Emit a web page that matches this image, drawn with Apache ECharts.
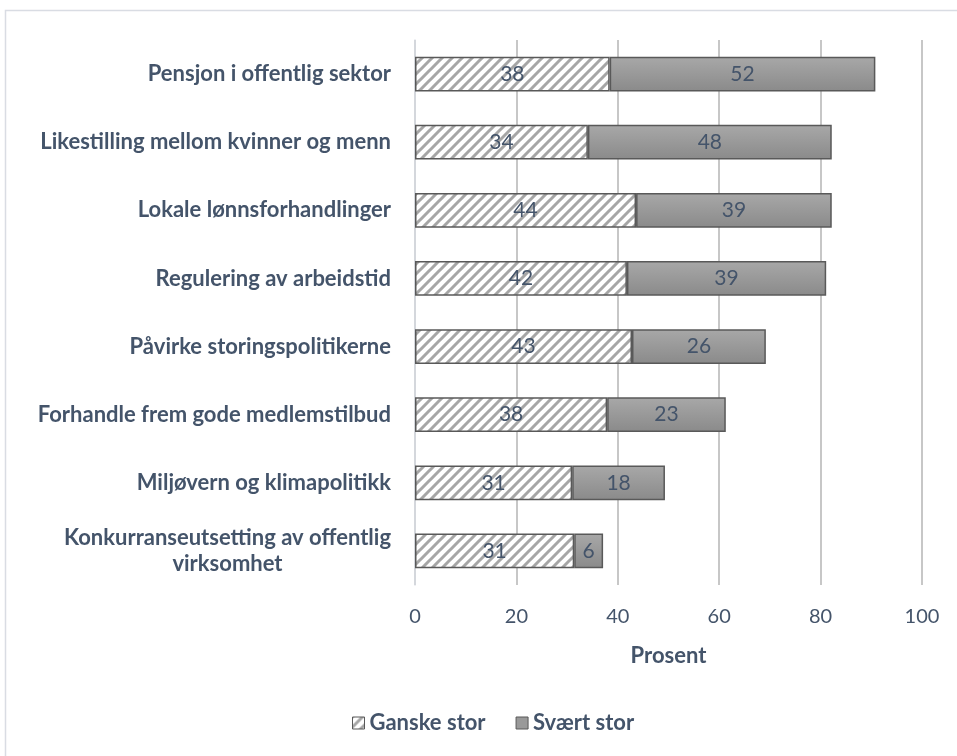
<!DOCTYPE html>
<html><head><meta charset="utf-8">
<script src="https://cdn.jsdelivr.net/npm/echarts@6/dist/echarts.min.js"></script>
<style>html,body{margin:0;padding:0;background:#fff}#c{width:957px;height:756px}</style>
</head><body><div id="c"></div>
<script>
const categories = [
  'Pensjon i offentlig sektor',
  'Likestilling mellom kvinner og menn',
  'Lokale lønnsforhandlinger',
  'Regulering av arbeidstid',
  'Påvirke storingspolitikerne',
  'Forhandle frem gode medlemstilbud',
  'Miljøvern og klimapolitikk',
  'Konkurranseutsetting av offentlig\nvirksomhet'
];
const ganskeStor = [38.4, 34.1, 43.6, 41.8, 42.8, 37.9, 31.0, 31.4];
const svaertStor = [52.4, 48.1, 38.6, 39.3, 26.4, 23.4, 18.3, 5.7];
const xTicks = [0, 20, 40, 60, 80, 100];

const TXT = '#44546a';
const FONT = 'Lato, "Open Sans", sans-serif';

function hatch() {
  const c = document.createElement('canvas');
  c.width = 10; c.height = 10;
  const g = c.getContext('2d');
  g.fillStyle = '#fff'; g.fillRect(0, 0, 10, 10);
  g.strokeStyle = '#a6a6a6'; g.lineWidth = 3;
  g.beginPath();
  g.moveTo(-2, 12); g.lineTo(12, -2);
  g.moveTo(-7, 7); g.lineTo(7, -7);
  g.moveTo(3, 17); g.lineTo(17, 3);
  g.stroke();
  return c;
}
const pat = hatch();

const chart = echarts.init(document.getElementById('c'), null, {renderer: 'canvas'});
chart.setOption({
  backgroundColor: '#fff',
  animation: false,
  textStyle: {fontFamily: FONT},
  graphic: [{
    type: 'rect', shape: {x: 5.5, y: 10.5, width: 1000, height: 800},
    style: {fill: 'none', stroke: '#d9dce3', lineWidth: 1.5}, z: -1, silent: true
  }],
  grid: {left: 415, right: 35, top: 40, bottom: 171, containLabel: false},
  xAxis: {
    type: 'value', min: 0, max: 100, interval: 20,
    name: 'Prosent', nameLocation: 'middle', nameGap: 60,
    nameTextStyle: {color: TXT, fontWeight: 'bold', fontSize: 22, fontFamily: FONT},
    axisLine: {show: false}, axisTick: {show: false},
    axisLabel: {color: TXT, fontSize: 20, margin: 22, fontFamily: FONT,
      formatter: v => xTicks.includes(v) ? String(v) : ''},
    splitLine: {show: true, lineStyle: {color: '#b4b4b4', width: 1.5}}
  },
  yAxis: {
    type: 'category', data: categories, inverse: true,
    axisLine: {show: true, lineStyle: {color: '#d9dce3', width: 1.5}},
    axisTick: {show: false},
    axisLabel: {
      color: TXT, fontSize: 22, fontWeight: 'bold', margin: 24, fontFamily: FONT,
      lineHeight: 26,
      formatter: v => v.split('\n').map(s => '{c|' + s + '}').join('\n'),
      rich: {c: {align: 'center', color: TXT, fontSize: 22, fontWeight: 'bold', fontFamily: FONT, lineHeight: 26}}
    }
  },
  legend: {
    bottom: 22, left: 352, padding: 0, itemGap: 30, itemWidth: 12, itemHeight: 12,
    textStyle: {color: TXT, fontSize: 22, fontWeight: 'bold', fontFamily: FONT},
    data: [
      {name: 'Ganske stor', icon: 'rect', itemStyle: {color: {image: pat, repeat: 'repeat'}, borderColor: '#595959', borderWidth: 1}},
      {name: 'Svært stor', icon: 'rect', itemStyle: {color: '#999999', borderColor: '#595959', borderWidth: 1}}
    ]
  },
  series: [
    {
      name: 'Ganske stor', type: 'bar', stack: 's', data: ganskeStor, barWidth: '51%',
      itemStyle: {color: {image: pat, repeat: 'repeat'}, borderColor: '#595959', borderWidth: 1.5},
      label: {show: true, position: 'inside', color: TXT, fontSize: 21, fontFamily: FONT,
        formatter: p => Math.round(p.value)}
    },
    {
      name: 'Svært stor', type: 'bar', stack: 's', data: svaertStor, barWidth: '51%',
      itemStyle: {
        color: new echarts.graphic.LinearGradient(0, 0, 0, 1, [
          {offset: 0, color: '#a8a8a8'}, {offset: 1, color: '#8a8a8a'}
        ]),
        borderColor: '#595959', borderWidth: 1.5
      },
      label: {show: true, position: 'inside', color: TXT, fontSize: 21, fontFamily: FONT,
        formatter: p => Math.round(p.value)}
    }
  ]
});
</script></body></html>
